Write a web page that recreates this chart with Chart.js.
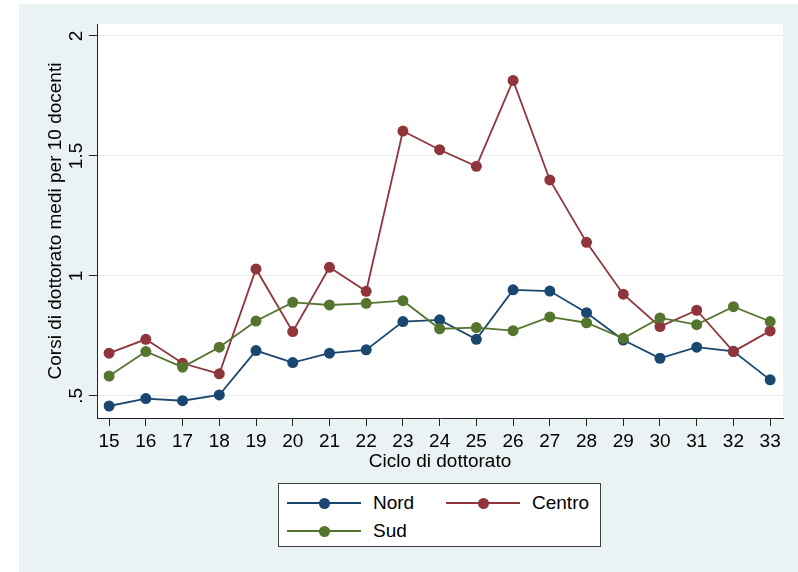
<!DOCTYPE html>
<html>
<head>
<meta charset="utf-8">
<script src="https://cdn.jsdelivr.net/npm/chart.js@4"></script>
<style>
  html, body { margin: 0; padding: 0; background: #ffffff; }
  body { width: 798px; height: 572px; position: relative; overflow: hidden;
         font-family: "Liberation Sans", Arial, sans-serif; }
  #frame { position: absolute; left: 19px; top: 4px; width: 779px; height: 568px; background: #eaf2f3; }
  #chartCanvas { position: absolute; left: 0; top: 0; }
  #legendBox { position: absolute; left: 259px; top: 479px; width: 321px; height: 62px;
               background: #ffffff; border: 1px solid #404040; }
  .lg-line { position: absolute; height: 1.5px; width: 74px; }
  .lg-dot { position: absolute; width: 11px; height: 11px; border-radius: 50%; }
  .lg-text { position: absolute; font-size: 19px; color: #000; line-height: 22px; }
</style>
</head>
<body>
<div id="frame">
  <canvas id="chartCanvas" width="779" height="568"></canvas>
  <div id="legendBox"></div>
</div>
<script>
(function() {

  var cycles = [15, 16, 17, 18, 19, 20, 21, 22, 23, 24, 25, 26, 27, 28, 29, 30, 31, 32, 33];
  var nord = [0.458, 0.489, 0.480, 0.504, 0.689, 0.639, 0.678, 0.692, 0.810, 0.817, 0.736, 0.942, 0.937, 0.847, 0.733, 0.657, 0.703, 0.686, 0.567];
  var centro = [0.678, 0.736, 0.636, 0.592, 1.029, 0.768, 1.036, 0.936, 1.604, 1.526, 1.457, 1.815, 1.400, 1.140, 0.924, 0.789, 0.857, 0.685, 0.771];
  var sud = [0.583, 0.685, 0.620, 0.703, 0.812, 0.890, 0.879, 0.886, 0.897, 0.780, 0.785, 0.772, 0.829, 0.805, 0.740, 0.825, 0.797, 0.872, 0.810];
  var yTicks = [0.5, 1, 1.5, 2];
  var yTickLabels = ['.5', '1', '1.5', '2'];
  var seriesNames = ['Nord', 'Centro', 'Sud'];
  var seriesColors = ['#1a476f', '#90353b', '#55752f'];

  var FONT = '"Liberation Sans", Arial, sans-serif';

  function toPoints(values) {
    return cycles.map(function(c, i) { return { x: c, y: values[i] }; });
  }

  function makeDataset(idx, values, order) {
    return {
      label: seriesNames[idx],
      data: toPoints(values),
      borderColor: seriesColors[idx],
      backgroundColor: seriesColors[idx],
      pointBackgroundColor: seriesColors[idx],
      pointBorderColor: seriesColors[idx],
      borderWidth: 1.8,
      pointRadius: 5.5,
      pointBorderWidth: 0,
      tension: 0,
      order: order
    };
  }

  // white plot region
  var plotBg = {
    id: 'plotBg',
    beforeDraw: function(chart) {
      var a = chart.chartArea;
      var ctx = chart.ctx;
      ctx.save();
      ctx.fillStyle = '#ffffff';
      ctx.fillRect(a.left, a.top, a.right - a.left, a.bottom - a.top);
      ctx.restore();
    }
  };

  // rotated y tick labels, Stata style
  var yLabels = {
    id: 'yLabels',
    afterDraw: function(chart) {
      var ctx = chart.ctx;
      var sc = chart.scales.y;
      ctx.save();
      ctx.font = '19px ' + FONT;
      ctx.fillStyle = '#000';
      ctx.textAlign = 'center';
      ctx.textBaseline = 'alphabetic';
      yTicks.forEach(function(v, i) {
        var py = sc.getPixelForValue(v);
        ctx.save();
        ctx.translate(63, py);
        ctx.rotate(-Math.PI / 2);
        ctx.fillText(yTickLabels[i], 0, 0);
        ctx.restore();
      });
      ctx.restore();
    }
  };

  Chart.defaults.font.family = FONT;
  Chart.defaults.color = '#000';

  new Chart(document.getElementById('chartCanvas'), {
    type: 'line',
    data: {
      datasets: [
        makeDataset(0, nord, 3),
        makeDataset(1, centro, 2),
        makeDataset(2, sud, 1)
      ]
    },
    options: {
      responsive: false,
      animation: false,
      devicePixelRatio: 1,
      layout: { padding: { left: 25, top: 20, right: 15, bottom: 98.6 } },
      plugins: { legend: { display: false }, tooltip: { enabled: false } },
      scales: {
        x: {
          type: 'linear',
          min: 14.67,
          max: 33.35,
          afterBuildTicks: function(scale) {
            scale.ticks = cycles.map(function(c) { return { value: c }; });
          },
          afterFit: function(scale) { scale.height = 55.4; },
          ticks: {
            font: { size: 19 },
            color: '#000',
            padding: 4,
            maxRotation: 0,
            autoSkip: false,
            callback: function(v) { return String(v); }
          },
          grid: { drawOnChartArea: false, drawTicks: true, tickLength: 8, tickColor: '#222', color: '#222' },
          border: { display: true, color: '#222', width: 1 },
          title: { display: true, text: 'Ciclo di dottorato', font: { size: 19 }, color: '#000', padding: 0 }
        },
        y: {
          type: 'linear',
          min: 0.408,
          max: 2.05,
          afterBuildTicks: function(scale) {
            scale.ticks = yTicks.map(function(v) { return { value: v }; });
          },
          afterFit: function(scale) { scale.width = 53; },
          ticks: { display: false },
          grid: { drawOnChartArea: true, drawTicks: true, tickLength: 8, color: '#e8eeef', tickColor: '#222', lineWidth: 1 },
          border: { display: true, color: '#222', width: 1 },
          title: { display: true, text: 'Corsi di dottorato medi per 10 docenti', font: { size: 19 }, color: '#000', padding: 0 }
        }
      }
    },
    plugins: [plotBg, yLabels]
  });

  // legend (Stata-style box, two columns)
  var box = document.getElementById('legendBox');
  var slots = [
    { left: 8, top: 19 },
    { left: 167, top: 19 },
    { left: 8, top: 47 }
  ];
  seriesNames.forEach(function(name, i) {
    var s = slots[i];
    var line = document.createElement('div');
    line.className = 'lg-line';
    line.style.left = s.left + 'px';
    line.style.top = (s.top - 0.75) + 'px';
    line.style.background = seriesColors[i];
    box.appendChild(line);
    var dot = document.createElement('div');
    dot.className = 'lg-dot';
    dot.style.left = (s.left + 37 - 5.5) + 'px';
    dot.style.top = (s.top - 5.5) + 'px';
    dot.style.background = seriesColors[i];
    box.appendChild(dot);
    var txt = document.createElement('div');
    txt.className = 'lg-text';
    txt.style.left = (s.left + 86) + 'px';
    txt.style.top = (s.top - 11) + 'px';
    txt.textContent = name;
    box.appendChild(txt);
  });

})();
</script>
</body>
</html>
